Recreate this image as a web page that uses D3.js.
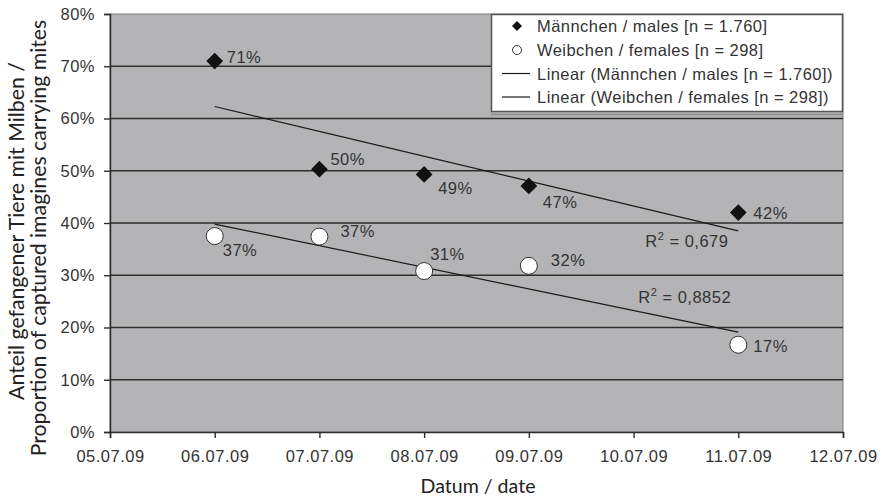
<!DOCTYPE html>
<html><head><meta charset="utf-8">
<script src="https://cdn.jsdelivr.net/npm/d3@7"></script>
<style>body{margin:0;background:#fff}svg{display:block}</style>
</head><body>
<svg id="c" width="884" height="498"></svg>
<script>
const dates = ["2009-07-06","2009-07-07","2009-07-08","2009-07-09","2009-07-11"];
const males = [0.710, 0.503, 0.493, 0.471, 0.420];
const females = [0.375, 0.374, 0.308, 0.318, 0.167];
const maleLabels = ["71%","50%","49%","47%","42%"];
const femaleLabels = ["37%","37%","31%","32%","17%"];
const trendDates = ["2009-07-06","2009-07-11"];
const maleTrend = [0.623, 0.385];
const femaleTrend = [0.398, 0.191];
const r2Labels = ["0,679","0,8852"];
const legendLabels = ["Männchen / males [n = 1.760]","Weibchen / females [n = 298]","Linear (Männchen / males [n = 1.760])","Linear (Weibchen / females [n = 298])"];
const xDomain = ["2009-07-05","2009-07-12"];
const yTicks = [0,0.1,0.2,0.3,0.4,0.5,0.6,0.7,0.8];

const parse = d3.utcParse("%Y-%m-%d");
const svg = d3.select("#c");
const L=110, R=843, T=14, B=432;
const x = d3.scaleUtc().domain(xDomain.map(parse)).range([L,R]);
const y = d3.scaleLinear().domain([0,0.8]).range([B,T]);
const font = "'Liberation Sans', Arial, sans-serif";
const txt = "#333";
const FS = "16.5px", LS = "0.5px";

svg.append("rect").attr("x",L).attr("y",T).attr("width",R-L).attr("height",B-T)
  .attr("fill","#b4b4b6").attr("stroke","#7a7a7a").attr("stroke-width",1);

// gridlines
svg.append("g").selectAll("line").data(yTicks.filter(d=>d>0&&d<0.8)).join("line")
  .attr("x1",L).attr("x2",R).attr("y1",d=>y(d)).attr("y2",d=>y(d))
  .attr("stroke","#2e2e2e").attr("stroke-width",1.4);

// axes
const yAxis = svg.append("g").attr("transform",`translate(${L},0)`)
  .call(d3.axisLeft(y).tickValues(yTicks).tickFormat(d3.format(".0%")).tickSize(6).tickPadding(9));
const xAxis = svg.append("g").attr("transform",`translate(0,${B})`)
  .call(d3.axisBottom(x).ticks(d3.utcDay.every(1)).tickFormat(d3.utcFormat("%d.%m.%y")).tickSize(6).tickPadding(12));
[yAxis,xAxis].forEach(a=>{
  a.select(".domain").attr("stroke","#2e2e2e").attr("stroke-width",1.5);
  a.selectAll(".tick line").attr("stroke","#2e2e2e").attr("stroke-width",1.4);
  a.selectAll("text").attr("fill",txt).style("font-family",font).style("font-size",FS).style("letter-spacing",LS);
});

// trend lines
const line = d3.line().x(d=>x(parse(d[0]))).y(d=>y(d[1]));
[maleTrend,femaleTrend].forEach(tr=>{
  svg.append("path").attr("d",line(trendDates.map((d,i)=>[d,tr[i]])))
    .attr("fill","none").attr("stroke","#1a1a1a").attr("stroke-width",1.2);
});

// markers
svg.append("g").selectAll("path").data(males).join("path")
  .attr("d",d3.symbol().type(d3.symbolSquare).size(140))
  .attr("transform",(d,i)=>`translate(${x(parse(dates[i]))},${y(d)}) rotate(45)`)
  .attr("fill","#111");
svg.append("g").selectAll("circle").data(females).join("circle")
  .attr("cx",(d,i)=>x(parse(dates[i]))).attr("cy",d=>y(d)).attr("r",8.5)
  .attr("fill","#fff").attr("stroke","#333").attr("stroke-width",1);

// value labels (offsets relative to marker)
const maleOff = [[12,2],[11,-4],[14,20],[14,22],[15,6]];
const femaleOff = [[8,20],[21,0],[6,-11],[22,0],[15,7]];
const lab = svg.append("g").style("font-family",font).style("font-size",FS).style("letter-spacing",LS).attr("fill",txt);
males.forEach((d,i)=>lab.append("text").attr("x",x(parse(dates[i]))+maleOff[i][0]).attr("y",y(d)+maleOff[i][1]).text(maleLabels[i]));
females.forEach((d,i)=>lab.append("text").attr("x",x(parse(dates[i]))+femaleOff[i][0]).attr("y",y(d)+femaleOff[i][1]).text(femaleLabels[i]));

// R² labels
const r2Pos = [[x(parse(trendDates[1]))-93, y(maleTrend[1])+16],[x(parse(trendDates[1]))-100, y(femaleTrend[1])-29]];
r2Labels.forEach((t,i)=>{
  const tx = lab.append("text").attr("x",r2Pos[i][0]).attr("y",r2Pos[i][1]);
  tx.append("tspan").text("R");
  tx.append("tspan").attr("dy",-7).style("font-size","11px").text("2");
  tx.append("tspan").attr("dy",7).text(" = "+t);
});

// legend
const lg = svg.append("g");
lg.append("line").attr("x1",491).attr("x2",843).attr("y1",114.5).attr("y2",114.5).attr("stroke","#8a8a8a").attr("stroke-width",1.5);
lg.append("rect").attr("x",491.5).attr("y",14.5).attr("width",351).attr("height",97)
  .attr("fill","#fff").attr("stroke","#555").attr("stroke-width",1.5);
const rowY = [26,50,73.5,97];
legendLabels.forEach((t,i)=>{
  const cy = rowY[i];
  if(i===0) lg.append("path").attr("d",d3.symbol().type(d3.symbolSquare).size(50)).attr("transform",`translate(517,${cy}) rotate(45)`).attr("fill","#111");
  else if(i===1) lg.append("circle").attr("cx",517).attr("cy",cy).attr("r",4.5).attr("fill","#fff").attr("stroke","#333");
  else lg.append("line").attr("x1",502).attr("x2",530).attr("y1",cy).attr("y2",cy).attr("stroke","#1a1a1a").attr("stroke-width",1.2);
  lg.append("text").attr("x",537).attr("y",cy+6).style("font-family",font).style("font-size","16.5px").style("letter-spacing","0.45px").attr("fill",txt).text(t);
});

// axis titles (font size fitted to the reference text widths)
const tf = "Lato, 'Noto Sans', sans-serif";
function fit(sel, w){
  const n = sel.node(); const len = n.getComputedTextLength();
  sel.style("font-size", (16*w/len).toFixed(2)+"px");
}
const t1 = svg.append("text").attr("transform","translate(24,231) rotate(-90)").attr("text-anchor","middle")
  .style("font-family",tf).style("font-size","16px").attr("fill","#222").text("Anteil gefangener Tiere mit Milben /");
const t2 = svg.append("text").attr("transform","translate(46,238) rotate(-90)").attr("text-anchor","middle")
  .style("font-family",tf).style("font-size","16px").attr("fill","#222").text("Proportion of captured imagines carrying mites");
const t3 = svg.append("text").attr("x",478).attr("y",493).attr("text-anchor","middle")
  .style("font-family",tf).style("font-size","16px").attr("fill","#222").text("Datum / date");
fit(t1, 338); fit(t2, 437); fit(t3, 115);
</script>
</body></html>
